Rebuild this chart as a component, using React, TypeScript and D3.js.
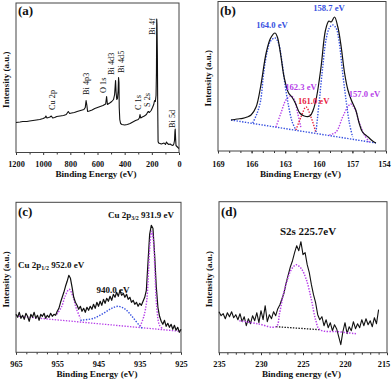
import { useEffect, useRef } from "react";
import * as d3 from "d3";

// (a) survey spectrum: [binding energy (eV), intensity (a.u.)]
const surveySpectrum: [number, number][] = [
  [1200, 30], [1170, 30.5], [1150, 31], [1120, 31], [1100, 31.5], [1075, 32], [1050, 32.5],
  [1025, 33], [1000, 34], [985, 35], [980, 36.5], [972, 34.5], [960, 35], [950, 35.5],
  [940, 36.5], [930, 34.5], [915, 35], [900, 36], [875, 36.5], [850, 37], [830, 38],
  [815, 41], [805, 39], [790, 39.5], [770, 40], [750, 41], [725, 42], [700, 43],
  [690, 45], [684, 52], [678, 47], [673, 41], [660, 41.5], [640, 42.5], [620, 44],
  [600, 45], [580, 46], [560, 47], [540, 48.5], [533, 56], [527, 48], [510, 49.5],
  [495, 51], [482, 53], [474, 58], [470, 66], [467, 72], [463, 60], [458, 53],
  [453, 54], [448, 62], [445, 75], [442, 70], [440, 45], [436, 33], [430, 29],
  [420, 28], [400, 27.5], [380, 28], [360, 29], [340, 30.5], [320, 32], [300, 33],
  [292, 34.5], [287, 38], [282, 34.5], [270, 35.5], [255, 36.5], [240, 38], [230, 40.5],
  [225, 41], [218, 40], [205, 42], [195, 45], [186, 48], [180, 52], [174, 51],
  [169, 57], [166, 80], [164, 133.5], [162, 128], [159, 95], [157, 50], [154, 11],
  [150, 9.5], [140, 9], [130, 8.5], [120, 9], [110, 9.5], [100, 8], [92, 10.5],
  [85, 9], [75, 8], [65, 8.5], [55, 7.5], [45, 7], [38, 8.5], [33, 12], [30, 21],
  [28, 23.5], [25, 14], [22, 7], [15, 6], [8, 5], [0, 4],
];
const surveyLabels = ["Cu 2p", "Bi 4p3", "O 1s", "Bi 4d3", "Bi 4d5", "C 1s", "S 2s", "Bi 4f", "Bi 5d"];
// where each label's foot sits: [energy, intensity]
const surveyLabelAt: [number, number][] = [
  [935, 42.5], [685, 57.5], [560, 59.5], [500, 77.5], [427, 79.5], [302, 42.5], [236, 45.5], [199, 117.5], [52, 24.5],
];

// (b) S 2p / Bi 4f region
const bEnvelope: [number, number][] = [
  [167.84, 31], [167.3, 32], [166.8, 32.7], [166.4, 34], [166.05, 36], [165.6, 44], [165.2, 64],
  [164.7, 98], [164.3, 113], [163.9, 118], [163.7, 114], [163.4, 96], [163.1, 74], [162.7, 58],
  [162.4, 54], [162.1, 48], [161.7, 38], [161.3, 35], [160.8, 35], [160.5, 41], [160.2, 54],
  [159.8, 84], [159.4, 121], [159.1, 130], [158.9, 129], [158.6, 134], [158.3, 124], [158.0, 104],
  [157.7, 78], [157.4, 61], [157.1, 51], [156.7, 41], [156.4, 28], [156.1, 19], [155.6, 14],
  [155.2, 10], [154.9, 8],
];
const bBaseline: [number, number][] = [[167.84, 31], [154.9, 8]];
const bPeak1640: [number, number][] = [
  [165.9, 28], [165.5, 38], [165.2, 50], [164.9, 80], [164.6, 100], [164.3, 110], [163.9, 113],
  [163.6, 108], [163.3, 90], [163.0, 65], [162.7, 45], [162.4, 30], [162.1, 22],
];
const bPeak1587: [number, number][] = [
  [160.25, 19], [159.95, 51], [159.65, 84], [159.36, 111], [159.06, 123], [158.76, 126],
  [158.46, 123], [158.17, 108], [157.87, 78], [157.57, 51], [157.27, 28], [156.98, 14],
];
const bPeak1623: [number, number][] = [
  [163.82, 24], [163.38, 38], [162.93, 51], [162.48, 55], [162.18, 51], [161.89, 38], [161.59, 23],
];
const bPeak1610: [number, number][] = [
  [162.04, 21], [161.59, 34], [161.14, 44], [160.7, 34], [160.25, 18],
];
const bPeak1570: [number, number][] = [
  [159.06, 16], [158.46, 19], [157.87, 34], [157.42, 44], [157.13, 47], [156.74, 41],
  [156.38, 28], [155.93, 16], [155.49, 9],
];

// (c) Cu 2p region, raw counts from 965 eV down in 0.4 eV steps
const cStart = 965;
const cStep = 0.4;
const cCounts = [
  38, 35, 40, 34, 37, 33, 39, 36, 31, 38, 35, 40, 34, 37, 32, 38, 36, 39, 34, 37,
  35, 39, 36, 38, 37, 41, 44, 50, 55, 60, 66, 71, 77, 74, 65, 55, 50, 47, 43, 46,
  41, 44, 40, 45, 42, 46, 43, 48, 44, 50, 46, 51, 47, 53, 49, 54, 51, 56, 52, 58,
  55, 60, 56, 62, 57, 59, 55, 58, 53, 55, 50, 52, 48, 50, 46, 49, 47, 51, 55, 62,
  90, 118, 127, 124, 98, 66, 45, 36, 31, 28, 32, 26, 29, 25, 28, 23, 27, 22, 25, 20, 23,
];
const cBaseline: [number, number][] = [[964.4, 36], [925.2, 21]];
const cPeak952: [number, number][] = [
  [955.1, 38], [953.9, 46], [953.1, 56], [952.1, 63], [951.2, 56], [950.4, 44], [949.4, 34],
];
const cPeak940: [number, number][] = [
  [949.4, 32], [946.2, 34], [943.8, 39], [941.8, 44], [940.2, 46], [938.5, 43], [936.9, 36],
  [934.9, 26], [934.1, 23],
];
const cPeak931: [number, number][] = [
  [934.9, 26], [934.0, 36], [933.3, 52], [932.9, 79], [932.5, 109], [932.1, 121], [931.7, 112],
  [931.3, 79], [930.9, 46], [930.2, 27], [929.3, 23],
];

// (d) S 2s region, raw counts from 235 eV down in 0.25 eV steps
const dStart = 235;
const dStep = 0.25;
const dCounts = [
  41, 37, 39, 34, 40, 36, 41, 35, 38, 33, 39, 31, 36, 27, 34, 29, 37, 32, 40, 30,
  42, 33, 47, 31, 38, 34, 41, 37, 44, 48, 54, 60, 70, 78, 86, 92, 100, 107, 102, 111,
  98, 100, 88, 80, 68, 58, 50, 38, 33, 36, 27, 33, 25, 30, 22, 28, 24, 16, 8, 21,
  30, 19, 26, 22, 31, 24, 29, 25, 33, 27, 34, 28, 32, 26, 35, 29, 43,
];
const dFit: [number, number][] = [
  [232.57, 32], [230.4, 29], [228.2, 26], [227.8, 39], [227.4, 56], [227.0, 69], [226.4, 83],
  [225.8, 88], [225.2, 84], [224.6, 73], [224.0, 53], [223.5, 33], [223.0, 23], [220.8, 21], [218.7, 19],
];
const dBaseline: [number, number][] = [[228.2, 26], [223.0, 23]];

const BLUE = "#3650e0";
const VIOLET = "#b63fe8";
const RED = "#e8223f";
const SERIF = "'Liberation Serif', 'Times New Roman', serif";

type Frame = {
  left: number; right: number; top: number; bottom: number;
  xDomain: [number, number]; major: number[]; minor: number[];
  tickBase: number; titleBase: number; title: string; letter: string; letterBase: number;
  lastShift?: number;
};

function drawFrame(svg: any, f: Frame) {
  const x = d3.scaleLinear().domain(f.xDomain).range([f.left, f.right]);
  const y = d3.scaleLinear().domain([0, f.bottom - f.top]).range([f.bottom, f.top]);
  const g = svg.append("g");

  g.append("g")
    .attr("transform", `translate(0,${f.bottom})`)
    .call(d3.axisBottom(x).tickValues(f.minor).tickSize(2).tickFormat(() => ""))
    .call((a: any) => a.select(".domain").remove())
    .selectAll("line").attr("stroke", "#333");

  const ax = g.append("g")
    .attr("transform", `translate(0,${f.bottom})`)
    .call(d3.axisBottom(x).tickValues(f.major).tickSize(2.5).tickFormat(d3.format("d")));
  ax.select(".domain").remove();
  ax.selectAll("line").attr("stroke", "#333");
  const n = f.major.length;
  ax.selectAll("text")
    .attr("y", f.tickBase - f.bottom).attr("dy", null)
    .attr("dx", (_: any, i: number) => (i === n - 1 ? -(f.lastShift ?? 0) : 0))
    .attr("font-family", SERIF).attr("font-size", 8.3).attr("font-weight", "bold").attr("fill", "#111");

  g.append("rect")
    .attr("x", f.left).attr("y", f.top)
    .attr("width", f.right - f.left).attr("height", f.bottom - f.top)
    .attr("fill", "none").attr("stroke", "#444").attr("stroke-width", 1);

  g.append("text")
    .attr("x", (f.left + f.right) / 2 - 1.5).attr("y", f.titleBase)
    .attr("text-anchor", "middle").attr("font-family", SERIF).attr("font-size", 9.2)
    .attr("font-weight", "bold").attr("fill", "#111").text(f.title);

  g.append("text")
    .attr("transform", `translate(${f.left - 10},${(f.top + f.bottom) / 2 + 2}) rotate(-90)`)
    .attr("dy", "0.35em")
    .attr("text-anchor", "middle").attr("font-family", SERIF).attr("font-size", 9)
    .attr("font-weight", "bold").attr("fill", "#111").text("Intensity (a.u.)");

  g.append("text")
    .attr("x", f.left + 2).attr("y", f.letterBase)
    .attr("font-family", SERIF).attr("font-size", 13)
    .attr("font-weight", "bold").attr("fill", "#111").text(f.letter);

  return { g, x, y };
}

function renderFigure(el: SVGSVGElement) {
  const svg = d3.select(el);
  svg.selectAll("*").remove();

  const path = (g: any, x: any, y: any, pts: [number, number][], color: string, w: number, dotted: boolean, curve: any = d3.curveLinear) => {
    const line = d3.line<[number, number]>().x((d) => x(d[0])).y((d) => y(d[1])).curve(curve);
    g.append("path").datum(pts).attr("d", line).attr("fill", "none")
      .attr("stroke", color).attr("stroke-width", w)
      .attr("stroke-dasharray", dotted ? "1.4,1.4" : null)
      .attr("stroke-linejoin", "round");
  };
  const label = (g: any, xv: number, yv: number, color: string, size: number) =>
    g.append("text").attr("x", xv).attr("y", yv).attr("text-anchor", "middle")
      .attr("font-family", SERIF).attr("font-size", size).attr("font-weight", "bold").attr("fill", color);

  // (a)
  {
    const { g, x, y } = drawFrame(svg, {
      left: 16, right: 179, top: 3, bottom: 152.5, xDomain: [1200, 0],
      major: d3.range(1200, -1, -200), minor: d3.range(1100, 0, -200),
      tickBase: 166.7, titleBase: 176.7, title: "Binding Energy (eV)", letter: "(a)", letterBase: 14.5,
    });
    path(g, x, y, surveySpectrum, "#111", 1.1, false);
    surveyLabels.forEach((t, i) => {
      const [e, v] = surveyLabelAt[i];
      g.append("text")
        .attr("transform", `translate(${x(e)},${y(v)}) rotate(-90)`)
        .attr("dy", "0.35em").attr("font-family", SERIF).attr("font-size", 8.3)
        .attr("fill", "#111").text(t);
    });
  }

  // (b)
  {
    const { g, x, y } = drawFrame(svg, {
      left: 218, right: 386, top: 1.5, bottom: 151, xDomain: [169, 154],
      major: d3.range(169, 153, -3), minor: d3.range(168, 154, -1),
      tickBase: 167.3, titleBase: 176.5, title: "Binding Energy (eV)", letter: "(b)", letterBase: 15,
      lastShift: 2,
    });
    path(g, x, y, bBaseline, BLUE, 1.4, true);
    path(g, x, y, bPeak1623, VIOLET, 1.4, true, d3.curveCatmullRom);
    path(g, x, y, bPeak1570, VIOLET, 1.4, true, d3.curveCatmullRom);
    path(g, x, y, bPeak1610, RED, 1.4, true, d3.curveCatmullRom);
    path(g, x, y, bPeak1640, BLUE, 1.4, true, d3.curveCatmullRom);
    path(g, x, y, bPeak1587, BLUE, 1.4, true, d3.curveCatmullRom);
    path(g, x, y, bEnvelope, "#111", 1.2, false, d3.curveCatmullRom);
    label(g, x(164.18), y(123), BLUE, 8.6).text("164.0 eV");
    label(g, x(159.09), y(140.5), BLUE, 8.6).text("158.7 eV");
    label(g, x(161.59), y(61), VIOLET, 8.6).text("162.3 eV");
    label(g, x(160.46), y(47), RED, 8.6).text("161.0 eV");
    label(g, x(155.92), y(54), VIOLET, 8.6).text("157.0 eV");
  }

  // (c)
  {
    const { g, x, y } = drawFrame(svg, {
      left: 16, right: 181, top: 202.3, bottom: 352.3, xDomain: [965, 925],
      major: d3.range(965, 924, -10), minor: d3.range(962.5, 925, -2.5).filter((v) => v % 10 !== 5),
      tickBase: 366.7, titleBase: 376.5, title: "Binding Energy (eV)", letter: "(c)", letterBase: 216,
    });
    const raw = cCounts.map((v, i) => [cStart - i * cStep, v] as [number, number]);
    path(g, x, y, cBaseline, VIOLET, 1.3, true);
    path(g, x, y, cPeak940, BLUE, 1.4, true, d3.curveCatmullRom);
    path(g, x, y, cPeak952, VIOLET, 1.4, true, d3.curveCatmullRom);
    path(g, x, y, raw, "#111", 1.2, false);
    path(g, x, y, cPeak931, VIOLET, 1.4, true, d3.curveCatmullRom);
    const t1 = label(g, x(934.7), y(134.6), "#111", 9);
    t1.append("tspan").text("Cu 2p");
    t1.append("tspan").attr("font-size", 6).attr("dy", 2).text("3/2");
    t1.append("tspan").attr("dy", -2).text(" 931.9 eV");
    const t2 = label(g, x(956.5), y(84), "#111", 9);
    t2.append("tspan").text("Cu 2p");
    t2.append("tspan").attr("font-size", 6).attr("dy", 2).text("1/2");
    t2.append("tspan").attr("dy", -2).text(" 952.0 eV");
    label(g, x(941.5), y(59), "#111", 9).text("940.0 eV");
  }

  // (d)
  {
    const { g, x, y } = drawFrame(svg, {
      left: 219, right: 387, top: 201.7, bottom: 352.7, xDomain: [235, 215],
      major: d3.range(235, 214, -5), minor: d3.range(234, 215, -1).filter((v) => v % 5 !== 0),
      tickBase: 366.7, titleBase: 376.5, title: "Binding energy (eV)", letter: "(d)", letterBase: 216,
      lastShift: 3.5,
    });
    const raw = dCounts.map((v, i) => [dStart - i * dStep, v] as [number, number]);
    path(g, x, y, raw, "#111", 1.1, false);
    path(g, x, y, dBaseline, "#111", 1.3, true);
    path(g, x, y, dFit, VIOLET, 1.5, true, d3.curveCatmullRom);
    label(g, x(224.4), y(117.7), "#111", 11).text("S2s 225.7eV");
  }
}

export default function App() {
  const ref = useRef<SVGSVGElement>(null);
  useEffect(() => {
    if (ref.current) renderFigure(ref.current);
  }, []);
  return (
    <svg
      ref={ref}
      width={392}
      height={380}
      style={{ position: "absolute", left: 0, top: 0, background: "#fff" }}
    />
  );
}
